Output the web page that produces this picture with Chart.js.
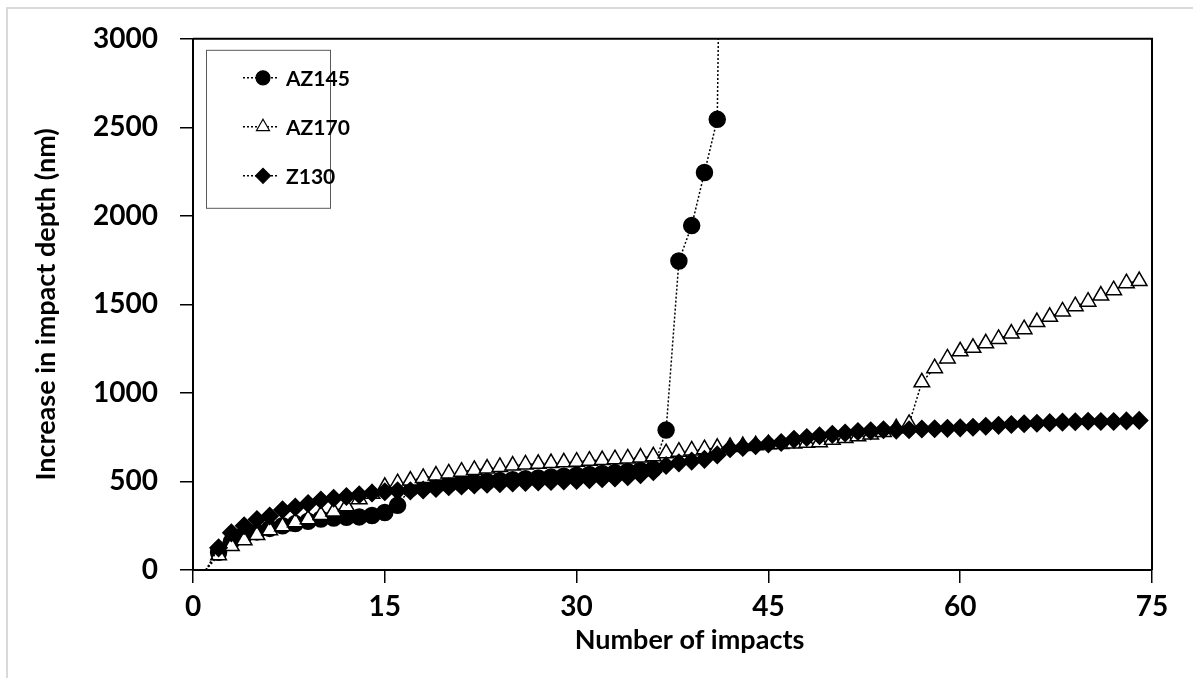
<!DOCTYPE html>
<html>
<head>
<meta charset="utf-8">
<script src="https://cdn.jsdelivr.net/npm/chart.js@4.4.0/dist/chart.umd.min.js"></script>
<style>
  html, body { margin: 0; padding: 0; background: #fff; }
  #wrap { position: relative; width: 1193px; height: 678px; overflow: hidden; }
  #frame { position: absolute; left: 6px; top: 7px; right: -2px; bottom: -2px;
           border-left: 2px solid #d9d9d9; border-top: 2px solid #d9d9d9; }
  #myChart { position: absolute; left: 0; top: 0; }
</style>
</head>
<body>
<div id="wrap">
  <div id="frame"></div>
  <canvas id="myChart" width="1193" height="678"></canvas>
</div>
<script>
// number of impacts (x)
const impacts = [1, 2, 3, 4, 5, 6, 7, 8, 9, 10, 11, 12, 13, 14, 15, 16, 17, 18, 19, 20,
  21, 22, 23, 24, 25, 26, 27, 28, 29, 30, 31, 32, 33, 34, 35, 36, 37, 38, 39, 40,
  41, 42, 43, 44, 45, 46, 47, 48, 49, 50, 51, 52, 53, 54, 55, 56, 57, 58, 59, 60,
  61, 62, 63, 64, 65, 66, 67, 68, 69, 70, 71, 72, 73, 74]

// increase in impact depth (nm)
const az145 = [0, 100, 160, 195, 215, 235, 250, 262, 275, 288, 293, 298, 300, 308, 325, 365,
  460, 470, 478, 485, 490, 495, 500, 505, 510, 515, 520, 525, 530, 535, 540, 545, 550, 556, 562, 570,
  790, 1745, 1945, 2245, 2545, 8000,
  null, null, null, null, null, null, null, null, null, null, null, null, null, null, null, null,
  null, null, null, null, null, null, null, null, null, null, null, null, null, null, null, null]

const az170 = [0, 84, 135, 168, 197, 225, 247, 270, 287, 310, 330, 360, 400, 430, 470, 490,
  505, 520, 533, 545, 555, 565, 573, 582, 590, 596, 600, 604, 608, 612, 617, 621, 626, 630, 635, 642,
  660, 668, 675, 682, 690, 695, 700, 705, 710, 712, 715, 718, 722, 735, 745, 755, 765, 780, 800, 825,
  1060, 1140, 1195, 1235, 1255, 1280, 1305, 1335, 1360, 1400, 1430, 1460, 1490, 1515, 1550, 1580, 1620, 1632]

const z130 = [0, 125, 210, 250, 285, 305, 340, 355, 375, 395, 405, 415, 425, 435, 442, 447,
  447, 452, 460, 470, 475, 480, 484, 488, 491, 494, 497, 500, 503, 506, 510, 515, 520, 527, 538, 555,
  590, 605, 615, 625, 650, 685, 692, 702, 712, 720, 738, 748, 758, 766, 774, 782, 786, 792, 790, 792,
  796, 798, 800, 803, 806, 812, 817, 822, 826, 829, 832, 835, 837, 840, 839, 839, 842, 845]

const xTicks = [0, 15, 30, 45, 60, 75]
const yTicks = [0, 500, 1000, 1500, 2000, 2500, 3000]

const FONT = 'Lato'

function toPoints(values) {
  return values.map((v, i) => ({ x: impacts[i], y: v }))
}

// first point (x=1, 0) has no marker, only the dotted line
function radius(r) {
  return ctx => ctx.dataIndex === 0 ? 0 : r
}

function series(label, values, style, r, fill, order) {
  return {
    label: label,
    data: toPoints(values),
    borderColor: '#000',
    borderWidth: 1.5,
    borderDash: [2, 2],
    pointStyle: style,
    pointRadius: radius(r),
    pointHoverRadius: radius(r),
    pointBackgroundColor: fill,
    pointBorderColor: '#000',
    pointBorderWidth: 1.5,
    spanGaps: false,
    tension: 0,
    order: order
  }
}

const boxPlugin = { // top and right border of the plot area + x axis title
  id: 'boxPlugin',
  afterDatasetsDraw(chart) {
    const { ctx, chartArea: a } = chart
    ctx.save()
    ctx.strokeStyle = '#000'
    ctx.lineWidth = 2
    ctx.beginPath()
    ctx.moveTo(a.left, a.top)
    ctx.lineTo(a.right, a.top)
    ctx.lineTo(a.right, a.bottom)
    ctx.stroke()
    ctx.fillStyle = '#000'
    ctx.font = 'bold 27px ' + FONT
    ctx.textAlign = 'center'
    ctx.textBaseline = 'middle'
    ctx.fillText('Number of impacts', (a.left + a.right) / 2 + 17, 640)
    ctx.restore()
  }
}

const legendPlugin = { // boxed legend inside the plot, top left
  id: 'legendPlugin',
  afterDraw(chart) {
    const { ctx, chartArea: a } = chart
    const x0 = a.left + 13, y0 = a.top + 11
    ctx.save()
    ctx.fillStyle = '#fff'
    ctx.fillRect(x0, y0, 124, 158)
    ctx.strokeStyle = '#595959'
    ctx.lineWidth = 1
    ctx.strokeRect(x0 + 0.5, y0 + 0.5, 124, 158)
    const sizes = [7, 7.5, 7.5]
    chart.data.datasets.forEach((ds, i) => {
      const y = y0 + 28 + i * 49
      ctx.setLineDash([2, 2])
      ctx.lineWidth = 1.5
      ctx.strokeStyle = '#000'
      ctx.beginPath()
      ctx.moveTo(x0 + 37, y)
      ctx.lineTo(x0 + 71, y)
      ctx.stroke()
      ctx.setLineDash([])
      ctx.fillStyle = ds.pointBackgroundColor
      ctx.lineWidth = 1.2
      Chart.helpers.drawPoint(ctx, { pointStyle: ds.pointStyle, radius: sizes[i], rotation: 0, borderWidth: 1.2 }, x0 + 57, y)
      ctx.fillStyle = '#000'
      ctx.font = 'bold 21px ' + FONT
      ctx.textBaseline = 'middle'
      ctx.fillText(ds.label, x0 + 80, y + 1)
    })
    ctx.restore()
  }
}

const ctx = document.getElementById('myChart')

const mychart = new Chart(ctx, {
  type: 'line',
  data: {
    datasets: [
      series('AZ145', az145, 'circle', 8, '#000', 3),
      series('AZ170', az170, 'triangle', 9, '#fff', 2),
      series('Z130', z130, 'rectRot', 8.5, '#000', 1)
    ]
  },
  plugins: [boxPlugin, legendPlugin],
  options: {
    responsive: false,
    animation: false,
    devicePixelRatio: 1,
    layout: { padding: { top: 36, right: 41, left: 0, bottom: 0 } },
    plugins: {
      legend: { display: false },
      tooltip: { enabled: false }
    },
    scales: {
      x: {
        type: 'linear',
        min: 0,
        max: 75,
        afterFit: s => { s.height = 108 },
        afterBuildTicks: s => { s.ticks = xTicks.map(v => ({ value: v })) },
        ticks: { color: '#000', padding: 7, font: { family: FONT, size: 28, weight: 'bold' }, callback: v => String(v) },
        grid: { drawOnChartArea: false, drawTicks: true, tickLength: 13, color: '#000', lineWidth: 1.5 },
        border: { display: true, color: '#000', width: 2 }
      },
      y: {
        min: 0,
        max: 3000,
        afterFit: s => { s.width = 193 },
        afterBuildTicks: s => { s.ticks = yTicks.map(v => ({ value: v })) },
        ticks: { color: '#000', padding: 22, font: { family: FONT, size: 28, weight: 'bold' }, callback: v => String(v) },
        grid: { drawOnChartArea: false, drawTicks: true, tickLength: 13, color: '#000', lineWidth: 1.5 },
        border: { display: true, color: '#000', width: 2 },
        title: {
          display: true,
          text: 'Increase in impact depth (nm)',
          color: '#000',
          font: { family: FONT, size: 27, weight: 'bold' },
          padding: { top: 30, bottom: 0 }
        }
      }
    }
  }
});
</script>
</body>
</html>
